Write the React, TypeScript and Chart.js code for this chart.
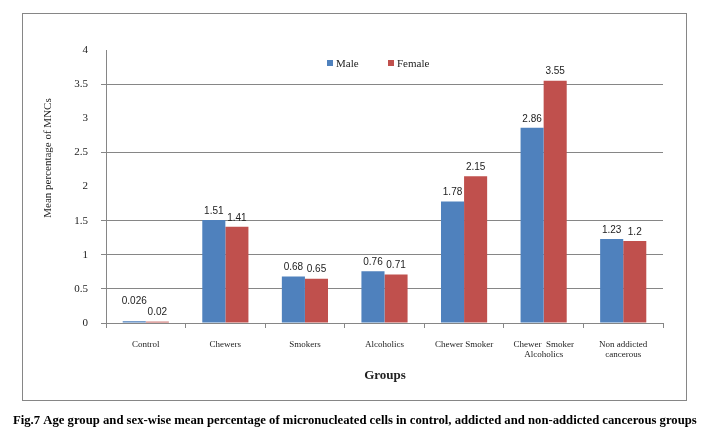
import React, { useEffect, useRef } from "react";
import { Chart, registerables } from "chart.js";

Chart.register(...registerables);

const categories: string[][] = [
  ["Control"],
  ["Chewers"],
  ["Smokers"],
  ["Alcoholics"],
  ["Chewer Smoker"],
  ["Chewer  Smoker", "Alcoholics"],
  ["Non addicted", "cancerous"],
];
const maleValues = [0.026, 1.51, 0.68, 0.76, 1.78, 2.86, 1.23];
const femaleValues = [0.02, 1.41, 0.65, 0.71, 2.15, 3.55, 1.2];
const seriesNames = ["Male", "Female"];
const hiddenGridValues = [4, 3, 2];
const yTitle = "Mean percentage of MNCs";
const xTitle = "Groups";
const caption =
  "Fig.7 Age group and sex-wise mean percentage of micronucleated cells in control, addicted and non-addicted cancerous groups";

const BLUE = "#4F81BD";
const RED = "#C0504D";
const GRID = "#868686";
const SERIF = "'Liberation Serif', 'DejaVu Serif', serif";

const decorPlugin = {
  id: "decor",
  beforeDraw(chart: any) {
    const ctx = chart.ctx;
    ctx.save();
    ctx.fillStyle = "#fff";
    ctx.fillRect(0, 0, chart.width, chart.height);
    ctx.strokeStyle = GRID;
    ctx.lineWidth = 1;
    ctx.strokeRect(22.5, 13.5, 664, 387);
    ctx.restore();
  },
  afterDraw(chart: any) {
    const ctx = chart.ctx;
    ctx.save();
    // legend
    ctx.font = `11px ${SERIF}`;
    ctx.textBaseline = "middle";
    ctx.textAlign = "left";
    const legendItems = [
      { x: 327, color: BLUE, text: seriesNames[0] },
      { x: 388, color: RED, text: seriesNames[1] },
    ];
    legendItems.forEach((it) => {
      ctx.fillStyle = it.color;
      ctx.fillRect(it.x, 60, 6, 6);
      ctx.fillStyle = "#222";
      ctx.fillText(it.text, it.x + 9, 64);
    });
    // y title
    ctx.save();
    ctx.translate(48, 158);
    ctx.rotate(-Math.PI / 2);
    ctx.textAlign = "center";
    ctx.textBaseline = "middle";
    ctx.font = `11px ${SERIF}`;
    ctx.fillStyle = "#222";
    ctx.fillText(yTitle, 0, 0);
    ctx.restore();
    // x title
    ctx.font = `bold 13px ${SERIF}`;
    ctx.textAlign = "center";
    ctx.textBaseline = "middle";
    ctx.fillStyle = "#222";
    ctx.fillText(xTitle, 385, 376);
    // caption
    ctx.font = `bold 11px ${SERIF}`;
    ctx.textAlign = "left";
    ctx.fillStyle = "#000";
    const w = ctx.measureText(caption).width;
    const target = 684;
    const size = 11 * (target / w);
    ctx.font = `bold ${size.toFixed(2)}px ${SERIF}`;
    ctx.fillText(caption, 13, 421);
    ctx.restore();
  },
  afterDatasetsDraw(chart: any) {
    const ctx = chart.ctx;
    ctx.save();
    ctx.font = `10px 'Liberation Sans', Arial, sans-serif`;
    ctx.fillStyle = "#222";
    ctx.textAlign = "center";
    ctx.textBaseline = "bottom";
    const m0 = chart.getDatasetMeta(0).data;
    const m1 = chart.getDatasetMeta(1).data;
    const d0 = chart.data.datasets[0].data;
    const d1 = chart.data.datasets[1].data;
    for (let i = 0; i < m0.length; i++) {
      const t0 = String(d0[i]);
      const t1 = String(d1[i]);
      let y0 = m0[i].y - 4;
      const y1 = m1[i].y - 4;
      const w0 = ctx.measureText(t0).width;
      const w1 = ctx.measureText(t1).width;
      const overlapX = m0[i].x + w0 / 2 + 2 > m1[i].x - w1 / 2;
      if (overlapX && Math.abs(y0 - y1) < 11) y0 = Math.min(y0, y1) - 11;
      ctx.fillText(t0, m0[i].x, y0);
      ctx.fillText(t1, m1[i].x, y1);
    }
    ctx.restore();
  },
};

export default function App() {
  const ref = useRef<HTMLCanvasElement | null>(null);
  useEffect(() => {
    if (!ref.current) return;
    const chart = new Chart(ref.current, {
      type: "bar",
      data: {
        labels: categories,
        datasets: [
          { label: seriesNames[0], data: maleValues, backgroundColor: BLUE },
          { label: seriesNames[1], data: femaleValues, backgroundColor: RED },
        ],
      },
      options: {
        animation: false,
        responsive: false,
        devicePixelRatio: 1,
        layout: { padding: { left: 56, right: 47, top: 50, bottom: 66 } },
        plugins: { legend: { display: false }, tooltip: { enabled: false } },
        datasets: { bar: { categoryPercentage: 0.58, barPercentage: 1.0 } },
        scales: {
          x: {
            afterFit: (s: any) => {
              s.height = 50;
            },
            grid: {
              drawOnChartArea: false,
              drawTicks: true,
              tickLength: 5,
              color: GRID,
              offset: true,
            },
            border: { display: true, color: GRID },
            ticks: {
              color: "#222",
              font: { family: SERIF, size: 9, lineHeight: 1.15 },
              padding: 11,
              maxRotation: 0,
              autoSkip: false,
            },
          },
          y: {
            min: 0,
            max: 4,
            afterFit: (s: any) => {
              s.width = 50;
            },
            grid: {
              color: (c: any) =>
                c.tick && hiddenGridValues.includes(c.tick.value) ? "rgba(0,0,0,0)" : GRID,
              tickLength: 5,
              drawTicks: true,
            },
            border: { display: true, color: GRID },
            ticks: {
              stepSize: 0.5,
              color: "#222",
              font: { family: SERIF, size: 11 },
              padding: 13,
              callback: (v: any) => String(v),
            },
          },
        },
      },
      plugins: [decorPlugin],
    });
    return () => chart.destroy();
  }, []);
  return (
    <div style={{ position: "fixed", left: 0, top: 0, width: 710, height: 439, background: "#fff" }}>
      <canvas ref={ref} width={710} height={439} style={{ width: 710, height: 439, display: "block" }} />
    </div>
  );
}
